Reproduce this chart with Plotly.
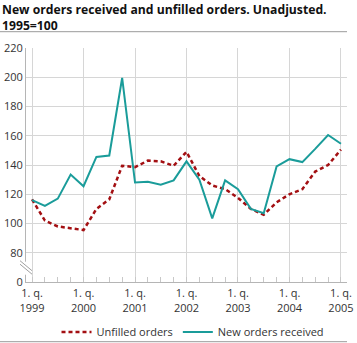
import plotly.graph_objects as go

quarters = list(range(25))  # 1. q. 1999 ... 1. q. 2005
tick_years = ["1999", "2000", "2001", "2002", "2003", "2004", "2005"]

new_orders = [116, 112, 117, 133.5, 125.5, 145.5, 146.5, 199.5,
              128, 128.5, 126.5, 129.5, 142.5, 130, 103.5, 129.5,
              123.5, 110, 107, 139, 144, 142, 151, 160.5, 154.5]
unfilled = [116.5, 102, 98, 97, 95.5, 110, 116.5, 139.5,
            138.5, 143, 142.5, 139.5, 149, 132.5, 126, 123.5,
            117.5, 110, 106, 114.5, 120, 123.5, 135.5, 140, 150.5]

y_ticks = [60, 80, 100, 120, 140, 160, 180, 200, 220]
y_ticktext = ["0", "80", "100", "120", "140", "160", "180", "200", "220"]

RED = "#a30f12"
TEAL = "#1a9c9a"
GRID = "#d6d6d6"

fig = go.Figure()
fig.add_trace(go.Scatter(x=quarters, y=unfilled, mode="lines", name="Unfilled orders",
                         line=dict(color=RED, width=2.5, dash="4px,3px")))
fig.add_trace(go.Scatter(x=quarters, y=new_orders, mode="lines", name="New orders received",
                         line=dict(color=TEAL, width=2)))

WIDTH, HEIGHT = 357, 343
L, R, T, B = 26, 347, 48.3, 282.3
W, H = R - L, B - T


def px(x):
    return (x - L) / W


def py(y):
    return (B - y) / H


shapes = [
    # title separator
    dict(type="line", xref="paper", yref="paper", x0=px(0), x1=px(347), y0=py(32), y1=py(32),
         line=dict(color="#9a9a9a", width=1)),
    # bottom separator
    dict(type="line", xref="paper", yref="paper", x0=px(0), x1=px(347), y0=py(342), y1=py(342),
         line=dict(color="#9a9a9a", width=1)),
    # gap in y axis line
    dict(type="rect", xref="paper", yref="paper", x0=px(24), x1=px(28), y0=py(275), y1=py(262),
         fillcolor="white", line=dict(width=0), layer="above"),
    # break marks
    dict(type="line", xref="paper", yref="paper", x0=px(20), x1=px(32), y0=py(261), y1=py(271),
         line=dict(color="#a0a0a0", width=1)),
    dict(type="line", xref="paper", yref="paper", x0=px(20), x1=px(32), y0=py(264.5), y1=py(274.5),
         line=dict(color="#a0a0a0", width=1)),
]

annotations = [
    dict(text="<b>New orders received and unfilled orders. Unadjusted.<br>1995=100</b>",
         xref="paper", yref="paper", x=px(1), y=py(0), xanchor="left", yanchor="top",
         align="left", showarrow=False, borderpad=0,
         font=dict(family="Open Sans", size=12.2, color="#111111")),
]

fig.update_layout(
    width=WIDTH, height=HEIGHT,
    margin=dict(l=L, r=WIDTH - R, t=T, b=HEIGHT - B, autoexpand=False),
    paper_bgcolor="white", plot_bgcolor="white",
    font=dict(family="Open Sans", size=11, color="#333333"),
    showlegend=True,
    legend=dict(orientation="h", xref="container", yref="container",
                x=193 / WIDTH, xanchor="center", y=1 - 332 / HEIGHT, yanchor="middle",
                font=dict(size=11, color="#333333"), bgcolor="rgba(0,0,0,0)",
                itemwidth=30, tracegroupgap=0),
    shapes=shapes,
    annotations=annotations,
)

fig.update_xaxes(
    range=[-0.47, 24.47], automargin=False,
    tickmode="array", tickvals=[0, 4, 8, 12, 16, 20, 24],
    ticktext=["1. q.<br>" + y for y in tick_years],
    showgrid=True, gridcolor=GRID, gridwidth=1,
    ticks="", showline=True, linecolor="#b5b5b5", linewidth=1,
    ticklabelstandoff=1,
    minor=dict(tick0=0, dtick=1, ticks="inside", ticklen=5, tickcolor="#c8c8c8", showgrid=False),
    zeroline=False, fixedrange=True,
)
fig.update_yaxes(
    range=[60, 220], automargin=False,
    tickmode="array", tickvals=y_ticks, ticktext=y_ticktext,
    showgrid=True, gridcolor=GRID, gridwidth=1,
    ticks="", showline=True, linecolor="#b5b5b5", linewidth=1,
    zeroline=False, fixedrange=True,
)

fig.write_html("out.html")
